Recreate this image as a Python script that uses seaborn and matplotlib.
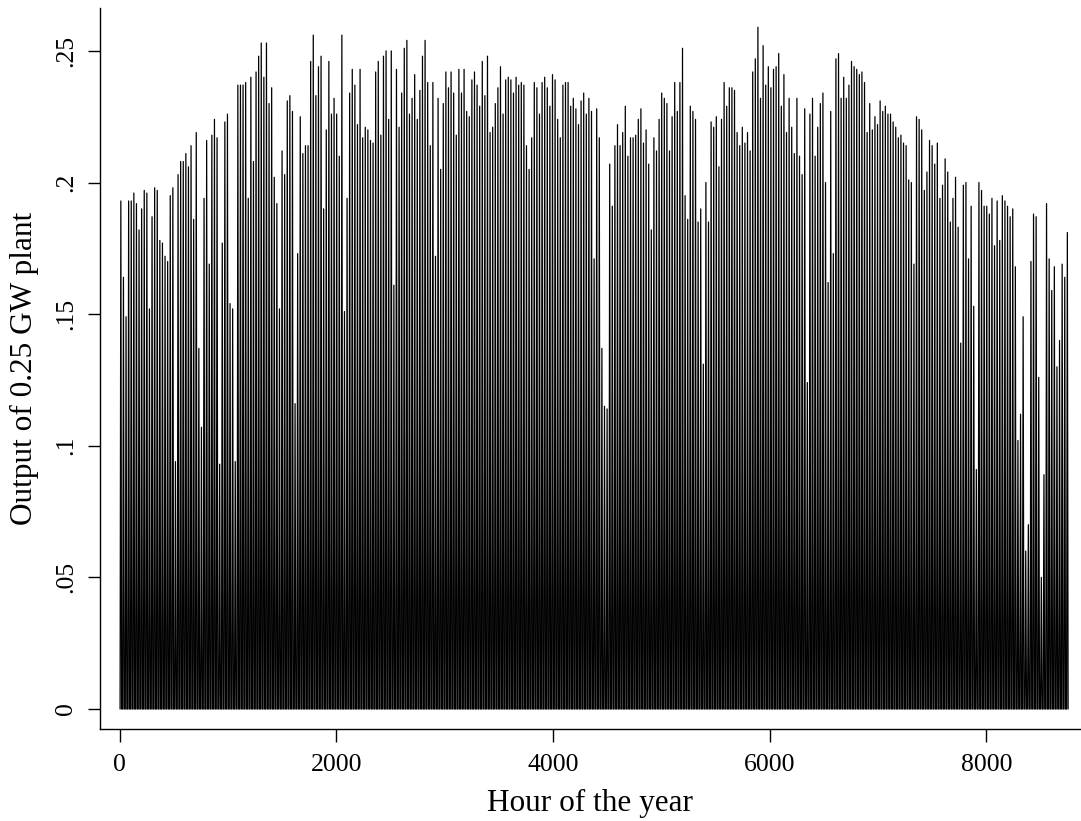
import numpy as np
import pandas as pd
import matplotlib
matplotlib.use("Agg")
import matplotlib.pyplot as plt
import seaborn as sns

# Daily peak output (GW), day by day through the year
peaks_a = [0.193,0.164,0.149,0.193,0.193,0.196,0.192,0.182,0.190,0.197,
           0.196,0.152,0.187,0.198,0.197,0.178,0.177,0.172,0.170,0.195,
           0.198,0.094,0.203,0.208,0.208,0.211,0.206,0.214,0.186,0.219,
           0.137,0.107,0.194,0.216,0.169,0.218,0.224,0.217,0.093,0.177,
           0.223,0.226,0.154]
peaks_b = [0.152,0.094,0.237,0.237,0.237,0.238,0.194,0.240,0.208,0.242,
           0.248,0.253,0.240,0.253,0.230,0.236,0.202,0.192,0.152,0.212,
           0.203,0.231,0.233,0.227,0.116,0.173,0.225,0.211,0.214,0.214,
           0.246,0.256,0.233,0.244,0.248,0.190,0.220,0.246,0.226,0.232,
           0.226,0.210,0.256,0.151,0.194,0.234]
peaks_c = [0.243,0.237,0.222,0.243,0.217,0.221,0.220,0.216,0.215,0.242,
           0.246,0.218,0.248,0.250,0.224,0.250,0.161,0.243,0.221,0.234,
           0.251,0.254,0.226,0.232,0.241,0.224,0.235,0.248,0.254,0.238,
           0.214,0.238,0.172,0.232,0.205,0.230,0.242,0.236,0.242,0.234,
           0.218,0.243,0.234,0.243,0.227,0.225]
peaks_d = [0.239,0.242,0.237,0.229,0.246,0.233,0.248,0.219,0.221,0.230,
           0.236,0.244,0.226,0.239,0.240,0.239,0.234,0.240,0.237,0.238,
           0.237,0.214,0.205,0.217,0.238,0.236,0.226,0.238,0.240,0.236,
           0.229,0.241,0.239,0.224,0.217,0.237,0.238,0.238,0.229,0.232,
           0.228,0.222,0.231,0.234,0.226,0.232]
peaks_e = [0.227,0.171,0.228,0.217,0.137,0.115,0.114,0.207,0.191,0.214,
           0.222,0.214,0.219,0.229,0.210,0.217,0.217,0.218,0.224,0.228,
           0.215,0.220,0.207,0.182,0.217,0.212,0.224,0.234,0.232,0.230,
           0.212,0.225,0.238,0.227,0.238,0.251,0.195,0.186,0.229,0.227,
           0.224,0.185,0.190,0.131,0.200,0.185]
peaks_f = [0.223,0.221,0.225,0.206,0.224,0.238,0.229,0.236,0.236,0.235,
           0.219,0.214,0.221,0.215,0.219,0.212,0.242,0.247,0.259,0.232,
           0.252,0.237,0.244,0.236,0.243,0.244,0.249,0.229,0.241,0.219,
           0.232,0.221,0.211,0.232,0.210,0.203,0.228,0.124,0.226,0.232,
           0.210,0.221,0.230,0.234,0.200,0.162,0.227]
peaks_g = [0.173,0.247,0.249,0.232,0.240,0.232,0.237,0.246,0.244,0.243,
           0.241,0.242,0.238,0.219,0.230,0.220,0.225,0.222,0.231,0.227,
           0.229,0.226,0.226,0.223,0.221,0.217,0.218,0.215,0.214,0.201,
           0.200,0.169,0.225,0.224,0.220,0.197,0.204,0.216,0.214,0.207,
           0.215,0.194,0.199,0.209,0.204,0.185]
peaks_h = [0.194,0.202,0.183,0.139,0.199,0.200,0.171,0.191,0.153,0.091,
           0.200,0.197,0.191,0.191,0.188,0.194,0.176,0.193,0.178,0.195,
           0.193,0.191,0.187,0.190,0.168,0.102,0.112,0.149,0.060,0.070,
           0.170,0.188,0.187,0.126,0.050,0.089,0.192,0.171,0.159,0.168,
           0.130,0.140,0.169,0.164,0.181]

x_ticks = [0, 2000, 4000, 6000, 8000]
y_ticks = [0, 0.05, 0.1, 0.15, 0.2, 0.25]
y_tick_labels = ["0", ".05", ".1", ".15", ".2", ".25"]
x_title = "Hour of the year"
y_title = "Output of 0.25 GW plant"

peaks = peaks_a + peaks_b + peaks_c + peaks_d + peaks_e + peaks_f + peaks_g + peaks_h

# each day: zero at sunrise, peak at noon, zero at sunset
hours, vals = [], []
for d, p in enumerate(peaks):
    hours += [24 * d + 5, 24 * d + 12, 24 * d + 19]
    vals += [0.0, p, 0.0]
df = pd.DataFrame({"hour": hours, "output": vals})

sns.set_theme(style="ticks")
plt.rcParams["font.family"] = ["Liberation Serif", "DejaVu Serif"]
plt.rcParams["text.color"] = "black"
plt.rcParams["axes.labelcolor"] = "black"
plt.rcParams["xtick.color"] = "black"
plt.rcParams["ytick.color"] = "black"

fig = plt.figure(figsize=(10.81, 8.21), dpi=100)
ax = fig.add_axes([99.5 / 1081, 1 - 729 / 821, (1081 - 99.5) / 1081, (729 - 8) / 821])

sns.lineplot(data=df, x="hour", y="output", sort=False, estimator=None,
             color="black", linewidth=0.9, ax=ax)

ax.set_xlim(-185, 8874)
ax.set_ylim(-0.0076, 0.2663)
ax.set_xticks(x_ticks)
ax.set_xticklabels([str(t) for t in x_ticks], fontsize=18.5)
ax.set_yticks(y_ticks)
ax.set_yticklabels(y_tick_labels, fontsize=18.5, rotation=90, va="center")
ax.tick_params(axis="both", direction="out", length=9, width=1.0,
               color="black", labelcolor="black")
ax.tick_params(axis="x", pad=9)
ax.tick_params(axis="y", pad=7)
ax.set_xlabel(x_title, fontsize=22.5, labelpad=9, color="black")
ax.set_ylabel(y_title, fontsize=22.5, labelpad=12, color="black")

for s in ["top", "right"]:
    ax.spines[s].set_visible(False)
for s in ["left", "bottom"]:
    ax.spines[s].set_linewidth(1.0)
    ax.spines[s].set_color("black")

fig.savefig("out.png", dpi=100, facecolor="white")
